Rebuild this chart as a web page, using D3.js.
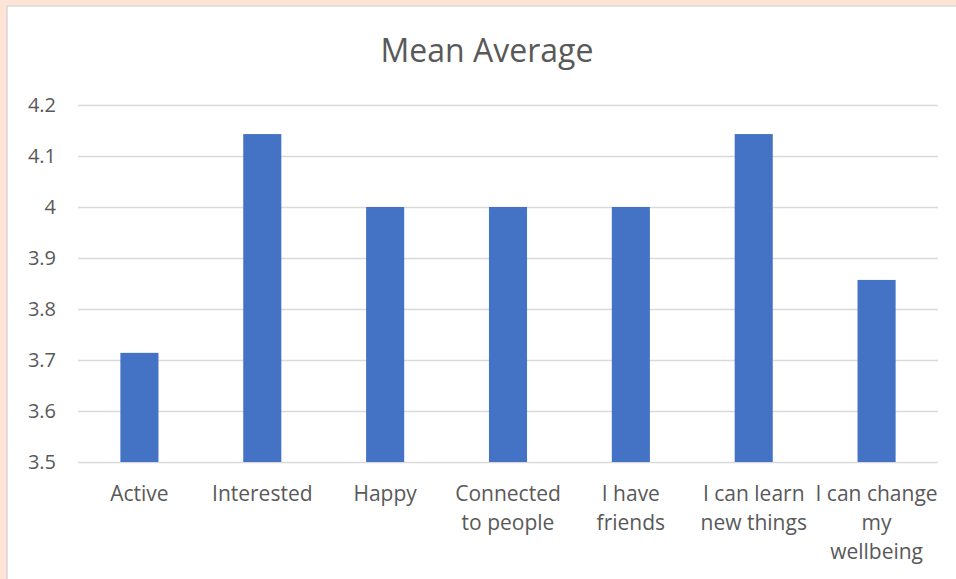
<!DOCTYPE html>
<html>
<head>
<meta charset="utf-8">
<script src="https://cdn.jsdelivr.net/npm/d3@7"></script>
<style>
  html, body { margin: 0; padding: 0; background: #fde4d7; }
  svg { display: block; }
</style>
</head>
<body>
<svg id="chart" width="956" height="579"></svg>
<script>
var categories = ['Active', 'Interested', 'Happy', 'Connected to people', 'I have friends', 'I can learn new things', 'I can change my wellbeing']
var labelLines = [['Active'], ['Interested'], ['Happy'], ['Connected', 'to people'], ['I have', 'friends'], ['I can learn', 'new things'], ['I can change', 'my', 'wellbeing']]
var values = [3.714, 4.143, 4, 4, 4, 4.143, 3.857]
var yTicks = [3.5, 3.6, 3.7, 3.8, 3.9, 4, 4.1, 4.2]

var svg = d3.select('#chart')
var font = 'Open Sans, sans-serif'
var textColor = '#595959'

// chart area with peach frame on top/left
svg.append('rect').attr('x', 0).attr('y', 0).attr('width', 956).attr('height', 579).attr('fill', '#fde4d7')
svg.append('rect').attr('x', 7).attr('y', 6).attr('width', 956).attr('height', 600)
  .attr('fill', '#ffffff').attr('stroke', '#d9d9d9').attr('stroke-width', 1.5)

var margin = {left: 78, right: 18, top: 105, bottom: 117}
var width = 956 - margin.left - margin.right
var height = 579 - margin.top - margin.bottom

var x = d3.scaleBand().domain(categories).range([margin.left, margin.left + width]).paddingInner(0.69).paddingOuter(0.345)
var y = d3.scaleLinear().domain([3.5, 4.2]).range([margin.top + height, margin.top])

svg.append('text')
  .attr('x', 487).attr('y', 62)
  .attr('text-anchor', 'middle')
  .style('font-family', font).style('font-size', '32px').style('fill', textColor)
  .text('Mean Average')

var yAxis = d3.axisLeft(y).tickValues(yTicks).tickSize(-width).tickPadding(22)
  .tickFormat(function (d) { return d3.format('')(+d.toFixed(1)) })
var gy = svg.append('g').attr('transform', 'translate(' + margin.left + ',0)').call(yAxis)
gy.select('.domain').remove()
gy.selectAll('line').attr('stroke', '#d9d9d9').attr('stroke-width', 1.5)
gy.selectAll('text').style('font-family', font).style('font-size', '20px').style('fill', textColor)

svg.selectAll('rect.bar')
  .data(values)
  .enter()
  .append('rect')
  .attr('class', 'bar')
  .attr('x', function (d, i) { return x(categories[i]) })
  .attr('width', x.bandwidth())
  .attr('y', function (d) { return y(d) })
  .attr('height', function (d) { return y(3.5) - y(d) })
  .attr('fill', '#4472c4')

var xAxis = d3.axisBottom(x).tickSize(0).tickFormat('')
var gx = svg.append('g').attr('transform', 'translate(0,' + (margin.top + height) + ')').call(xAxis)
gx.select('.domain').remove()

svg.selectAll('text.cat')
  .data(categories)
  .enter()
  .append('text')
  .attr('class', 'cat')
  .attr('text-anchor', 'middle')
  .attr('x', function (d) { return x(d) + x.bandwidth() / 2 })
  .attr('y', 501)
  .style('font-family', font).style('font-size', '21px').style('fill', textColor)
  .selectAll('tspan')
  .data(function (d, i) { return labelLines[i] })
  .enter()
  .append('tspan')
  .attr('x', function () { return d3.select(this.parentNode).attr('x') })
  .attr('dy', function (d, i) { return i === 0 ? 0 : 29 })
  .text(function (d) { return d })
</script>
</body>
</html>
